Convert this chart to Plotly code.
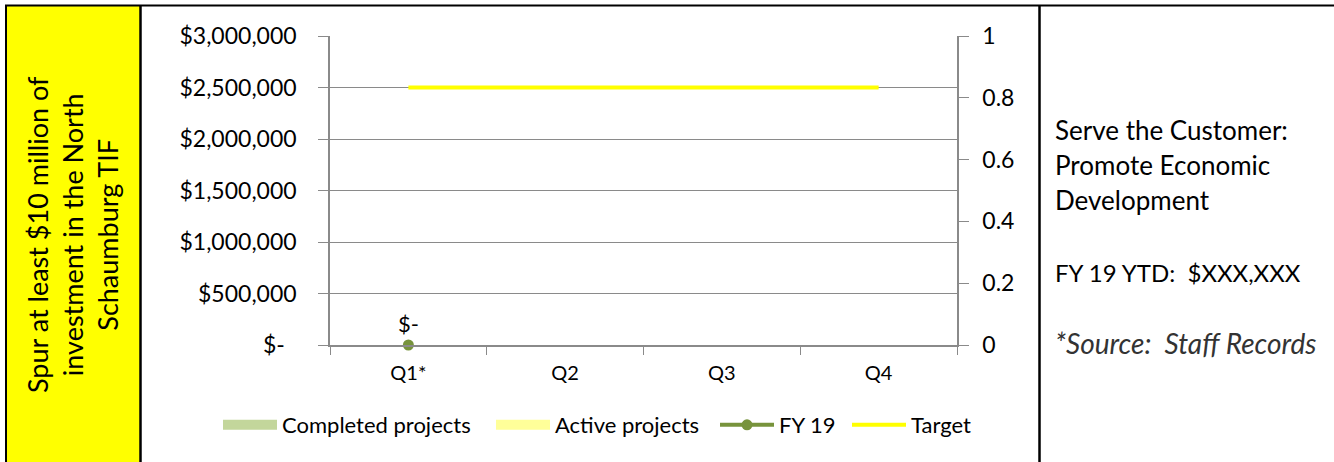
import plotly.graph_objects as go

quarters = ["Q1*", "Q2", "Q3", "Q4"]
completed = [None, None, None, None]
active = [None, None, None, None]
fy19 = [0, None, None, None]
fy19_labels = ["$-", "", "", ""]
target = [2500000, 2500000, 2500000, 2500000]

left_vals = [0, 500000, 1000000, 1500000, 2000000, 2500000, 3000000]
left_text = ["$-\u00a0\u00a0", "$500,000", "$1,000,000", "$1,500,000", "$2,000,000", "$2,500,000", "$3,000,000"]
right_vals = [0, 0.2, 0.4, 0.6, 0.8, 1]
right_text = ["0", "0.2", "0.4", "0.6", "0.8", "1"]

panel_title = "Spur at least $10 million of<br>investment in the North<br>Schaumburg TIF"
side_lines = ["Serve the Customer:", "Promote Economic", "Development", "FY 19 YTD:\u00a0\u00a0$XXX,XXX"]
side_sizes = [26, 26, 26, 24]
source_note = "*Source:\u00a0\u00a0Staff Records"

W, H = 1334, 462
L, R, T, B = 330, 957, 36, 345
PW, PH = R - L, B - T


def px(x):
    return (x - L) / PW


def py(y):
    return (B - y) / PH


FONT = "Lato"
GRAY = "#8a8a8a"

fig = go.Figure()
fig.add_trace(go.Scatter(x=quarters, y=completed, name="Completed projects", mode="lines",
                         line=dict(color="#C3D69B", width=14), yaxis="y2", legend="legend"))
fig.add_trace(go.Scatter(x=quarters, y=active, name="Active projects", mode="lines",
                         line=dict(color="#FFFF99", width=14), yaxis="y2", legend="legend2"))
fig.add_trace(go.Scatter(x=quarters, y=fy19, name="FY 19", mode="lines+markers+text",
                         text=fy19_labels, textposition="top center", cliponaxis=False,
                         textfont=dict(family=FONT, size=22, color="#000"),
                         line=dict(color="#77933C", width=4),
                         marker=dict(color="#77933C", size=11), legend="legend3"))
fig.add_trace(go.Scatter(x=quarters, y=target, name="Target", mode="lines",
                         line=dict(color="#FFFF00", width=4), legend="legend4"))

shapes = [
    dict(type="rect", xref="paper", yref="paper", x0=px(7), x1=px(140), y0=py(480), y1=py(6),
         fillcolor="#FFFF00", line=dict(width=0), layer="below"),
    dict(type="line", xref="paper", yref="paper", x0=px(6), x1=px(6), y0=py(480), y1=py(5),
         line=dict(color="#000", width=2)),
    dict(type="line", xref="paper", yref="paper", x0=px(140.5), x1=px(140.5), y0=py(480), y1=py(5),
         line=dict(color="#000", width=2.5)),
    dict(type="line", xref="paper", yref="paper", x0=px(5), x1=px(1340), y0=py(5.5), y1=py(5.5),
         line=dict(color="#000", width=2)),
    dict(type="line", xref="paper", yref="paper", x0=px(1039.5), x1=px(1039.5), y0=py(480), y1=py(5),
         line=dict(color="#000", width=2.5)),
]

annotations = [
    dict(xref="paper", yref="paper", x=px(72), y=py(235), text=panel_title, textangle=-90,
         showarrow=False, xanchor="center", yanchor="middle", align="center",
         font=dict(family=FONT, size=27, color="#000")),
]
line_y = [130, 165, 200, 272]
for txt, yy, sz in zip(side_lines, line_y, side_sizes):
    annotations.append(dict(xref="paper", yref="paper", x=px(1053), y=py(yy), text=txt,
                            showarrow=False, xanchor="left", yanchor="middle",
                            font=dict(family=FONT, size=sz, color="#000")))
annotations.append(dict(xref="paper", yref="paper", x=px(1053), y=py(343),
                        text="<i>" + source_note + "</i>", showarrow=False,
                        xanchor="left", yanchor="middle",
                        font=dict(family=FONT, size=28, color="#333")))


def legend_at(xpix):
    return dict(orientation="h", xref="paper", yref="paper",
                x=px(xpix), y=py(425), xanchor="left", yanchor="middle",
                font=dict(family=FONT, size=22, color="#000"), itemwidth=54,
                bgcolor="rgba(0,0,0,0)")


fig.update_layout(
    width=W, height=H,
    margin=dict(l=L, r=W - R, t=T, b=H - B, pad=0, autoexpand=False),
    paper_bgcolor="white", plot_bgcolor="white",
    font=dict(family=FONT, size=20, color="#000"),
    showlegend=True,
    legend=legend_at(218),
    legend2=legend_at(491),
    legend3=legend_at(715),
    legend4=legend_at(847),
    xaxis=dict(type="category", range=[-0.5, 3.5], tickson="boundaries", ticks="outside",
               ticklen=8, tickcolor=GRAY, showline=True, linecolor=GRAY, linewidth=1.5,
               showgrid=False, zeroline=False, tickfont=dict(family=FONT, size=20),
               ticklabelstandoff=9),
    yaxis=dict(range=[0, 3000000], tickvals=left_vals, ticktext=left_text, ticks="outside",
               ticklen=10, tickcolor=GRAY, showline=True, linecolor=GRAY, linewidth=1.5,
               showgrid=True, gridcolor=GRAY, gridwidth=1.2, zeroline=False,
               tickfont=dict(family=FONT, size=23), ticklabelstandoff=17),
    yaxis2=dict(range=[0, 1], tickvals=right_vals, ticktext=right_text, overlaying="y",
                side="right", ticks="outside", ticklen=10, tickcolor=GRAY, showline=True,
                linecolor=GRAY, linewidth=1.5, showgrid=False, zeroline=False,
                tickfont=dict(family=FONT, size=23), ticklabelstandoff=9),
    shapes=shapes, annotations=annotations,
)

fig.write_html("out.html")
